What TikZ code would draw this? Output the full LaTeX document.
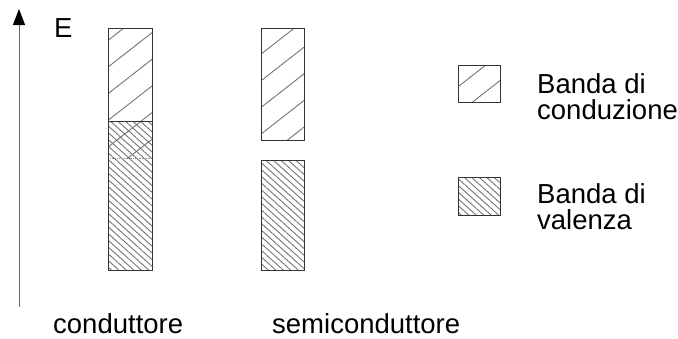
\documentclass[tikz,border=0pt]{standalone}
\usepackage{fontspec}
\setmainfont{Liberation Sans}
\usetikzlibrary{patterns.meta,arrows.meta}
\begin{document}
\begin{tikzpicture}[x=1pt,y=-1pt,
  lbl/.style={inner sep=0pt,anchor=base west,font=\fontsize{27.5}{27.5}\selectfont},
  cband/.style={pattern={Lines[angle=38,distance=21pt,line width=0.9pt]},pattern color=black!55},
  vband/.style={pattern={Lines[angle=-42,distance=5pt,line width=0.9pt]},pattern color=black!55},
  edge/.style={draw=black!80,line width=0.9pt}]
\useasboundingbox (0,0) rectangle (678,338);
% energy axis
\coordinate (axbot) at (19,307);
\coordinate (axtop) at (19,9);
\draw[black!60,line width=1pt,-{Triangle[length=16pt,width=12pt,black]}] (axbot) -- (axtop);
\node[lbl] (E) at (54,37) {E};
% conductor: overlapping bands
\path[cband] (108,28) rectangle (152,158);
\path[vband] (108,121) rectangle (152,270);
\draw[edge] (108,158) -- (108,28) -- (152,28) -- (152,158);
\draw[black!45,line width=0.8pt,densely dotted] (108,158) -- (152,158);
\draw[edge] (108,121) rectangle (152,270);
% semiconductor: bands separated by a gap
\draw[edge,cband] (261,28) rectangle (304,140);
\draw[edge,vband] (261,160) rectangle (304,270);
% legend
\draw[edge,cband] (458,65) rectangle (500,102);
\draw[edge,vband] (458,177) rectangle (500,215);
\node[lbl] (lc1) at (537,93) {Banda di};
\node[lbl] (lc2) at (537,119) {conduzione};
\node[lbl] (lv1) at (537,203) {Banda di};
\node[lbl] (lv2) at (537,229) {valenza};
% captions
\node[lbl,text depth=0pt] (cond) at (53,333) {conduttore};
\node[lbl,text depth=0pt] (semi) at (272,333) {semiconduttore};
\end{tikzpicture}
\end{document}
